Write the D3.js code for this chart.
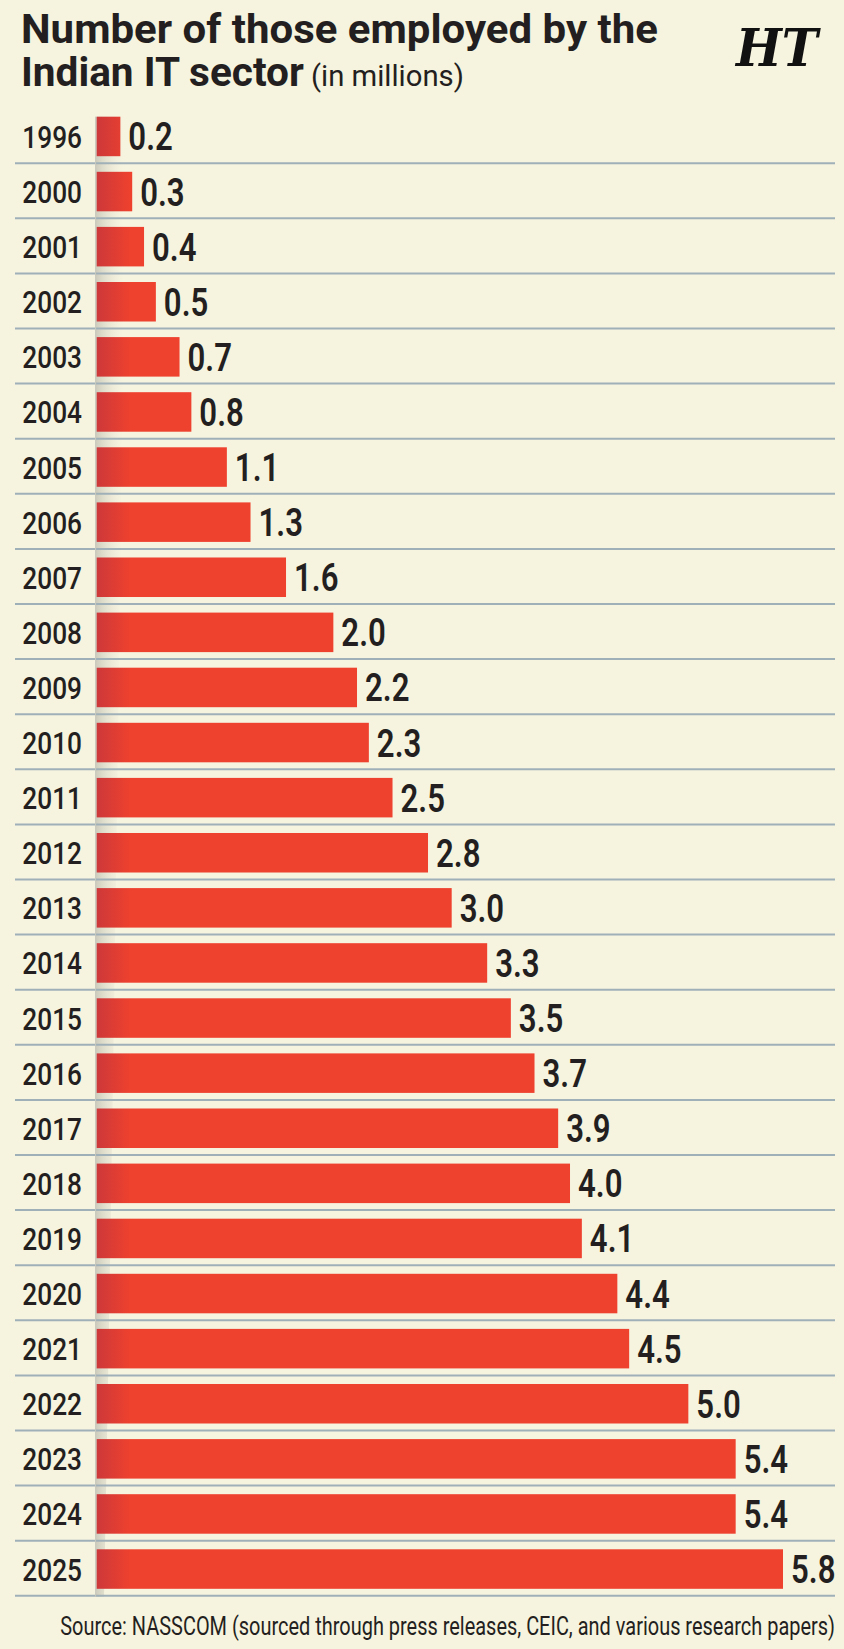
<!DOCTYPE html>
<html>
<head>
<meta charset="utf-8">
<script src="https://cdn.jsdelivr.net/npm/d3@7"></script>
<style>
  html, body { margin: 0; padding: 0; background: #f6f3df; }
  svg { display: block; }
</style>
</head>
<body>
<svg id="chart" width="844" height="1649"></svg>
<script>
const years = ["1996","2000","2001","2002","2003","2004","2005","2006","2007","2008","2009","2010","2011","2012","2013","2014","2015","2016","2017","2018","2019","2020","2021","2022","2023","2024","2025"];
const values = [0.2,0.3,0.4,0.5,0.7,0.8,1.1,1.3,1.6,2.0,2.2,2.3,2.5,2.8,3.0,3.3,3.5,3.7,3.9,4.0,4.1,4.4,4.5,5.0,5.4,5.4,5.8];
const titleLine1 = "Number of those employed by the";
const titleLine2 = "Indian IT sector";
const titleUnit = "(in millions)";
const sourceText = "Source: NASSCOM (sourced through press releases, CEIC, and various research papers)";

(function () {
const W = 844, H = 1649;
const FONT = "Roboto, 'Noto Sans', sans-serif";
const SERIF = "'DejaVu Serif', 'Liberation Serif', serif";
const INK = "#231f20";
const svg = d3.select("#chart");

svg.append("rect").attr("width", W).attr("height", H).attr("fill", "#f6f3df");

const defs = svg.append("defs");
const barGrad = defs.append("linearGradient").attr("id", "barGrad")
  .attr("gradientUnits", "userSpaceOnUse").attr("x1", 96).attr("x2", 130).attr("y1", 0).attr("y2", 0);
barGrad.append("stop").attr("offset", 0).attr("stop-color", "#cc383a");
barGrad.append("stop").attr("offset", 1).attr("stop-color", "#ee412e");
const shGrad = defs.append("linearGradient").attr("id", "shGrad")
  .attr("gradientUnits", "objectBoundingBox").attr("x1", 0).attr("x2", 1).attr("y1", 0).attr("y2", 0);
shGrad.append("stop").attr("offset", 0).attr("stop-color", "#9a9a90").attr("stop-opacity", 0.45);
shGrad.append("stop").attr("offset", 0.4).attr("stop-color", "#b8b8ac").attr("stop-opacity", 0.25);
shGrad.append("stop").attr("offset", 1).attr("stop-color", "#f6f3df").attr("stop-opacity", 0);

const data = years.map((y, i) => ({ year: y, value: values[i] }));

const x = d3.scaleLinear().domain([0, 5.8]).range([96.7, 783]);
const yS = d3.scaleBand().domain(years).range([116.7, 1588.8]).paddingInner(0.283).paddingOuter(0);
const bw = yS.bandwidth();

// page-fold shadow behind bars
const y0 = yS(years[0]), y1 = yS(years[years.length - 1]) + bw + 8;
svg.append("path")
  .attr("d", `M95.5,${y0} L126,${y0} C120,${y0 + 500} 112,${y1 - 400} 104,${y1} L95.5,${y1} Z`)
  .attr("fill", "url(#shGrad)");

// gridlines
svg.append("g").selectAll("line").data(data).join("line")
  .attr("x1", 15).attr("x2", 835)
  .attr("y1", d => yS(d.year) + bw + 7).attr("y2", d => yS(d.year) + bw + 7)
  .attr("stroke", "#9fb0b9").attr("stroke-width", 2);

// thin fold edge
svg.append("line").attr("x1", 95.6).attr("x2", 95.6).attr("y1", y0).attr("y2", y1)
  .attr("stroke", "#c9c9bd").attr("stroke-width", 1);

// bars
svg.append("g").selectAll("rect").data(data).join("rect")
  .attr("x", x(0)).attr("y", d => yS(d.year))
  .attr("width", d => x(d.value) - x(0)).attr("height", bw)
  .attr("fill", "url(#barGrad)");

// year labels (condensed look via horizontal scale)
svg.append("g").selectAll("text").data(data).join("text")
  .attr("transform", d => `translate(82,${yS(d.year) + bw / 2 + 11.5}) scale(0.82,1)`)
  .attr("text-anchor", "end")
  .attr("font-family", FONT).attr("font-size", 32).attr("font-weight", 500)
  .attr("fill", INK)
  .text(d => d.year);

// value labels
const fmt = d3.format(".1f");
svg.append("g").selectAll("text").data(data).join("text")
  .attr("transform", d => `translate(${x(d.value) + 8},${yS(d.year) + bw / 2 + 14}) scale(0.82,1)`)
  .attr("font-family", FONT).attr("font-size", 38).attr("font-weight", 600)
  .attr("fill", INK)
  .text(d => fmt(d.value));

// helper: fit text horizontally to a target width
function fitText(px, py, str, size, weight, targetW, anchor, family) {
  const t = svg.append("text")
    .attr("font-family", family || FONT).attr("font-size", size).attr("font-weight", weight)
    .attr("fill", INK).attr("text-anchor", anchor || "start").text(str);
  const w = t.node().getComputedTextLength();
  t.attr("transform", `translate(${px},${py}) scale(${targetW / w},1)`);
  return t;
}

// title
fitText(21, 43, titleLine1, 40, 700, 637);
fitText(21, 86, titleLine2, 40, 700, 283);
fitText(311, 86, titleUnit, 29, 400, 153);

// HT logo
fitText(818, 66, "HT", 52, 700, 82, "end", SERIF)
  .attr("font-style", "italic").attr("fill", "#111");

// source
fitText(835, 1635, sourceText, 25, 400, 775, "end");
})();
</script>
</body>
</html>
